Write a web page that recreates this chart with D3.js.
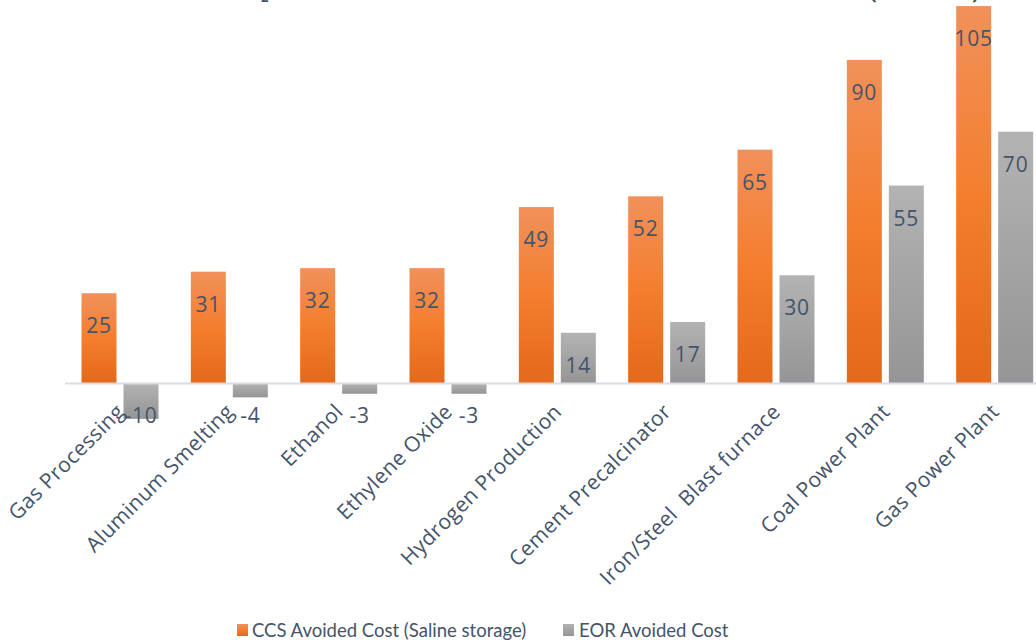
<!DOCTYPE html>
<html>
<head>
<meta charset="utf-8">
<script src="https://cdn.jsdelivr.net/npm/d3@7"></script>
<style>
  html, body { margin: 0; padding: 0; background: #fff; }
  svg { display: block; }
  .cat { white-space: pre; }
</style>
</head>
<body>
<svg id="chart" width="1036" height="642"></svg>
<script>
const categories = ["Gas Processing", "Aluminum Smelting", "Ethanol", "Ethylene Oxide",
  "Hydrogen Production", "Cement Precalcinator", "Iron/Steel  Blast furnace",
  "Coal Power Plant", "Gas Power Plant"];
const ccsValues = [25, 31, 32, 32, 49, 52, 65, 90, 105];
const eorValues = [-10, -4, -3, -3, 14, 17, 30, 55, 70];
const seriesNames = ["CCS Avoided Cost (Saline storage)", "EOR Avoided Cost"];
const seriesKeys = ["ccs", "eor"];

const textColor = "#44546A";
const svg = d3.select("#chart");
const defs = svg.append("defs");

function grad(id, stops) {
  const g = defs.append("linearGradient").attr("id", id)
    .attr("x1", 0).attr("y1", 0).attr("x2", 0).attr("y2", 1);
  stops.forEach(s => g.append("stop").attr("offset", s[0]).attr("stop-color", s[1]));
}
grad("gOrange", [[0, "#F1915B"], [0.5, "#F47E2E"], [1, "#E4691A"]]);
grad("gGray", [[0, "#B3B3B3"], [1, "#959595"]]);
const fills = { ccs: "url(#gOrange)", eor: "url(#gGray)" };

const x0 = d3.scaleBand().domain(categories).range([65, 1049]).paddingInner(0).paddingOuter(0);
const x1 = d3.scaleBand().domain(seriesKeys).range([16.5, 93.5]).paddingInner(7 / 42).paddingOuter(0);
const y = d3.scaleLinear().domain([0, 100]).range([383, 24]);

// Title (cut off at top of the image, as in the reference)
const title = svg.append("g").attr("fill", textColor)
  .attr("font-family", "'Open Sans', sans-serif").attr("font-weight", "bold").attr("font-size", 20);
title.append("text").attr("x", 259).attr("y", -4).attr("text-anchor", "end").text("Estimated Cost of CO");
title.append("text").attr("x", 261).attr("y", 2).attr("font-size", 13).text("2");
title.append("text").attr("x", 272).attr("y", -4).text(" Avoided for Industrial Sources");
title.append("text").attr("x", 870).attr("y", -1).text("(");
title.append("text").attr("x", 880).attr("y", -2.5).text("$");
title.append("text").attr("x", 893).attr("y", -5).text("/tonne");
title.append("text").attr("x", 972).attr("y", -1).text(")");

const data = categories.map((c, i) => ({ cat: c, ccs: ccsValues[i], eor: eorValues[i] }));

const groups = svg.append("g").selectAll("g").data(data).join("g")
  .attr("transform", d => `translate(${x0(d.cat)},0)`);

groups.selectAll("rect").data(d => seriesKeys.map(k => ({ key: k, value: d[k] }))).join("rect")
  .attr("x", d => x1(d.key))
  .attr("width", x1.bandwidth())
  .attr("y", d => Math.min(y(d.value), y(0)))
  .attr("height", d => Math.abs(y(d.value) - y(0)))
  .attr("fill", d => fills[d.key]);

// zero axis line
svg.append("line").attr("x1", 65).attr("x2", 1049).attr("y1", y(0) + 0.5).attr("y2", y(0) + 0.5)
  .attr("stroke", "#D9DDE6").attr("stroke-width", 2);

// value labels
groups.selectAll("text.val").data(d => seriesKeys.map(k => ({ key: k, value: d[k] }))).join("text")
  .attr("class", "val")
  .attr("x", d => x1(d.key) + x1.bandwidth() / 2)
  .attr("y", d => Math.min(y(d.value), y(0)) + 40)
  .attr("text-anchor", "middle")
  .attr("font-family", "'Open Sans', sans-serif").attr("font-size", 21)
  .attr("letter-spacing", 0.8)
  .attr("fill", textColor)
  .text(d => d.value);

// category labels
svg.append("g").selectAll("text").data(categories).join("text")
  .attr("class", "cat")
  .attr("transform", d => `translate(${x0(d) + x0.bandwidth() / 2 + 6},413) rotate(-45)`)
  .attr("text-anchor", "end")
  .attr("font-family", "'Open Sans', sans-serif").attr("font-size", 21)
  .attr("letter-spacing", 0.4)
  .attr("fill", textColor)
  .text(d => d);

// legend
const legend = svg.append("g");
const legendPos = [{ sx: 237, tx: 252 }, { sx: 563, tx: 579 }];
seriesKeys.forEach((k, i) => {
  legend.append("rect").attr("x", legendPos[i].sx).attr("y", 624).attr("width", 11).attr("height", 12)
    .attr("fill", fills[k]);
  legend.append("text").attr("x", legendPos[i].tx).attr("y", 637)
    .attr("font-family", "Lato, 'Open Sans', sans-serif").attr("font-size", 18.5)
    .attr("fill", textColor).text(seriesNames[i]);
});
</script>
</body>
</html>
